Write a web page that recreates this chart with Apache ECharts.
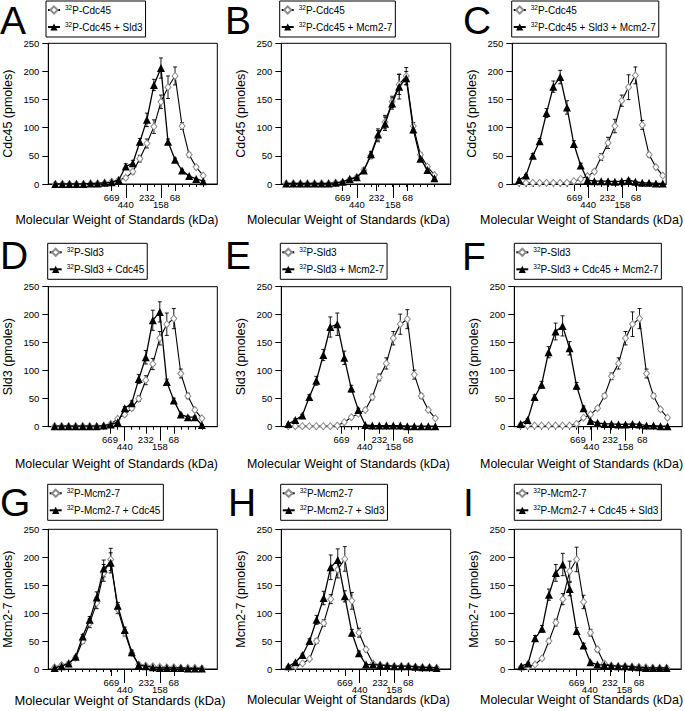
<!DOCTYPE html>
<html>
<head>
<meta charset="utf-8">
<script src="https://cdn.jsdelivr.net/npm/echarts@6/dist/echarts.min.js"></script>
<style>html,body{margin:0;padding:0;background:#fff}#c{width:685px;height:711px}</style>
</head>
<body>
<div id="c"></div>
<script>
// ---------------- DATA ----------------
const fractions = [1,2,3,4,5,6,7,8,9,10,11,12,13,14,15,16,17,18,19,20,21,22];
const standardLabels = ['669','440','232','158','68'];
const xTitle = 'Molecular Weight of Standards (kDa)';
const isotope = '32';

// legend labels (text following the superscript 32)
const legendA = ['P-Cdc45', 'P-Cdc45 + Sld3'];
const legendB = ['P-Cdc45', 'P-Cdc45 + Mcm2-7'];
const legendC = ['P-Cdc45', 'P-Cdc45 + Sld3 + Mcm2-7'];
const legendD = ['P-Sld3', 'P-Sld3 + Cdc45'];
const legendE = ['P-Sld3', 'P-Sld3 + Mcm2-7'];
const legendF = ['P-Sld3', 'P-Sld3 + Cdc45 + Mcm2-7'];
const legendG = ['P-Mcm2-7', 'P-Mcm2-7 + Cdc45'];
const legendH = ['P-Mcm2-7', 'P-Mcm2-7 + Sld3'];
const legendI = ['P-Mcm2-7', 'P-Mcm2-7 + Cdc45 + Sld3'];

// elution position (fraction) of each standard, per panel
const stdA = [9, 11, 14, 16, 18];
const stdB = [9, 11, 13.8, 16.1, 18.2];
const stdC = [9.1, 11.1, 13.9, 16.1, 18.1];
const stdD = [8.9, 11, 14, 16, 18];
const stdE = [8.6, 11.9, 14, 16, 18.1];
const stdF = [9.2, 11.1, 13.8, 16, 18.4];
const stdG = [9.1, 11, 14.1, 16, 18];
const stdH = [9, 11.1, 14, 16, 18];
const stdI = [9, 10.9, 13.8, 15.9, 18];

// Panel A
const aCdc45      = [0,0,0,0,0,1,1,2,4,7,11,22,45,72,102,146,172,192,103,52,30,15];
const aCdc45Err   = [0,0,0,0,0,0,0,0,1,2,3,4,6,8,12,12,20,16,6,4,3,2];
const aSld3       = [0,0,0,0,0,1,1,2,3,7,31,37,75,114,176,206,75,43,24,14,9,5];
const aSld3Err    = [0,0,0,0,0,0,0,0,1,2,5,5,6,12,10,18,5,3,2,1,1,1];
// Panel B
const bCdc45      = [1,1,1,1,1,1,1,2,3,8,12,25,50,85,110,146,177,192,103,52,31,16];
const bCdc45Err   = [0,0,0,0,0,0,0,0,1,1,2,3,5,10,12,10,18,15,6,4,3,2];
const bMcm        = [1,1,1,1,1,1,1,2,4,9,12,24,53,88,107,143,173,188,97,45,25,10];
const bMcmErr     = [0,0,0,0,0,0,0,0,1,2,2,3,5,10,12,10,22,12,6,4,3,2];
// Panel C
const cCdc45      = [2,2,2,2,2,2,2,2,5,9,14,22,48,73,103,148,172,193,105,52,30,15];
const cCdc45Err   = [0,0,0,0,0,0,0,0,1,2,2,3,6,10,12,10,22,15,8,4,3,2];
const cSld3Mcm    = [7,15,50,76,126,173,190,136,71,33,7,5,5,5,4,5,7,4,2,2,1,1];
const cSld3McmErr = [2,2,4,5,8,10,12,12,6,4,2,1,1,1,1,1,2,1,1,0,0,0];
// Panel D
const dSld3       = [1,1,1,1,1,1,1,1,5,14,22,33,50,83,112,158,183,193,95,55,30,15];
const dSld3Err    = [0,0,0,0,0,0,0,0,1,2,3,3,5,8,10,12,20,18,8,5,3,2];
const dCdc45      = [1,1,1,1,1,1,1,2,4,8,33,42,85,124,190,205,80,47,22,17,17,3];
const dCdc45Err   = [0,0,0,0,0,0,0,0,1,2,3,4,8,12,18,18,5,4,2,2,2,1];
// Panel E
const eSld3       = [1,1,1,1,1,1,1,2,8,17,23,30,53,88,113,158,183,192,93,55,30,15];
const eSld3Err    = [0,0,0,0,0,0,0,0,1,2,2,3,5,6,10,12,18,17,8,4,3,2];
const eMcm        = [5,12,20,53,82,128,178,183,123,68,30,3,2,2,2,2,2,1,1,1,1,1];
const eMcmErr     = [1,2,2,4,8,10,18,20,12,6,3,0,0,0,0,0,0,0,0,0,0,0];
// Panel F
const fSld3       = [2,2,2,2,2,2,2,2,5,16,22,33,55,90,113,158,183,193,95,55,31,16];
const fSld3Err    = [0,0,0,0,0,0,0,0,1,2,2,3,4,6,10,12,22,18,8,4,3,2];
const fCdcMcm     = [5,12,53,75,133,170,180,140,73,33,10,7,5,5,4,4,5,4,2,2,1,1];
const fCdcMcmErr  = [1,2,4,6,10,15,18,12,6,4,1,1,1,1,1,1,1,1,0,0,0,0];
// Panel G
const gMcm        = [3,7,10,20,50,82,118,172,196,107,65,28,8,6,5,4,3,3,2,2,2,1];
const gMcmErr     = [1,1,2,2,4,8,10,15,20,8,6,4,2,1,1,1,1,1,0,0,0,0];
const gCdc45      = [2,5,10,22,58,88,128,180,190,113,70,30,7,5,3,2,2,2,2,1,1,1];
const gCdc45Err   = [1,1,1,2,4,6,10,15,18,6,5,4,1,1,1,0,0,0,0,0,0,0];
// Panel H
const hMcm        = [3,5,10,18,50,82,125,178,197,122,65,35,10,7,6,5,5,5,4,3,3,2];
const hMcmErr     = [0,1,1,2,4,6,8,15,22,15,8,4,2,1,1,1,1,1,1,0,0,0];
const hSld3       = [5,12,25,50,88,127,182,195,130,65,28,8,8,7,6,5,5,5,4,3,3,2];
const hSld3Err    = [1,1,2,4,8,12,22,20,10,6,4,1,1,1,1,1,1,1,0,0,0,0];
// Panel I
const iMcm        = [3,4,8,19,50,83,125,175,196,120,65,35,10,6,5,5,4,4,3,2,2,2];
const iMcmErr     = [0,1,1,2,4,6,10,18,22,12,6,4,2,1,1,1,1,1,0,0,0,0];
const iCdcSld3    = [5,10,55,72,133,172,187,143,68,42,12,8,7,6,5,5,4,3,2,2,2,2];
const iCdcSld3Err = [1,2,5,6,10,15,20,12,6,4,2,1,1,1,1,1,1,1,0,0,0,0];

const panels = [
  {letter:'A', legend:legendA, yTitle:'Cdc45 (pmoles)',  std:stdA, w:aCdc45, we:aCdc45Err, b:aSld3,    be:aSld3Err},
  {letter:'B', legend:legendB, yTitle:'Cdc45 (pmoles)',  std:stdB, w:bCdc45, we:bCdc45Err, b:bMcm,     be:bMcmErr},
  {letter:'C', legend:legendC, yTitle:'Cdc45 (pmoles)',  std:stdC, w:cCdc45, we:cCdc45Err, b:cSld3Mcm, be:cSld3McmErr},
  {letter:'D', legend:legendD, yTitle:'Sld3 (pmoles)',   std:stdD, w:dSld3,  we:dSld3Err,  b:dCdc45,   be:dCdc45Err},
  {letter:'E', legend:legendE, yTitle:'Sld3 (pmoles)',   std:stdE, w:eSld3,  we:eSld3Err,  b:eMcm,     be:eMcmErr},
  {letter:'F', legend:legendF, yTitle:'Sld3 (pmoles)',   std:stdF, w:fSld3,  we:fSld3Err,  b:fCdcMcm,  be:fCdcMcmErr},
  {letter:'G', legend:legendG, yTitle:'Mcm2-7 (pmoles)', std:stdG, w:gMcm,   we:gMcmErr,   b:gCdc45,   be:gCdc45Err},
  {letter:'H', legend:legendH, yTitle:'Mcm2-7 (pmoles)', std:stdH, w:hMcm,   we:hMcmErr,   b:hSld3,    be:hSld3Err},
  {letter:'I', legend:legendI, yTitle:'Mcm2-7 (pmoles)', std:stdI, w:iMcm,   we:iMcmErr,   b:iCdcSld3, be:iCdcSld3Err}
];

// ---------------- LAYOUT ----------------
const FONT = "'Liberation Sans', Arial, Helvetica, sans-serif";
const layout = [
  {left:48.3,  width:169,   top:43.3,  height:140.7, xmin:0,   xmax:24,   lgX:46,    lgY:1,     ltX:0,   ltY:20.5,  shift:15.8, gap:30, tfs:12.4},
  {left:281.3, width:169.4, top:43.3,  height:140.7, xmin:0.3, xmax:24.3, lgX:279.7, lgY:1,     ltX:225, ltY:20.5,  shift:17.5, gap:30, tfs:12.4},
  {left:512.3, width:156.7, top:43.3,  height:140.7, xmin:0,   xmax:22.5, lgX:511.7, lgY:1,     ltX:463, ltY:20.5,  shift:7.7,  gap:30, tfs:12.4},
  {left:48.3,  width:169,   top:286.7, height:140,   xmin:0.1, xmax:24.2, lgX:47.7,  lgY:243.3, ltX:0,   ltY:255.5, shift:16.3, gap:31, tfs:12.4},
  {left:281.3, width:169.4, top:286.7, height:140,   xmin:0,   xmax:24.2, lgX:280.3, lgY:243.3, ltX:225, ltY:255.5, shift:17.5, gap:31, tfs:12.4},
  {left:514.3, width:169.7, top:286.7, height:140,   xmin:0.1, xmax:24.1, lgX:514.3, lgY:243.3, ltX:462, ltY:256.5, shift:16.7, gap:31, tfs:12.4},
  {left:48.3,  width:169,   top:529.3, height:139.7, xmin:0.1, xmax:24.2, lgX:47.7,  lgY:484.3, ltX:0,   ltY:502,   shift:12.8, gap:25, tfs:12.9},
  {left:281.3, width:169.4, top:529.3, height:139.7, xmin:0,   xmax:24,   lgX:280.7, lgY:484.3, ltX:228, ltY:502,   shift:17.5, gap:25, tfs:12.4},
  {left:514.3, width:169.7, top:529.3, height:139.7, xmin:0,   xmax:24.1, lgX:514.3, lgY:484.3, ltX:463, ltY:502,   shift:16.2, gap:25, tfs:12.4}
];

function errRender(params, api) {
  const x = api.value(0), y = api.value(1), e = api.value(2);
  if (!(e > 0)) return {type:'group', children:[]};
  const p1 = api.coord([x, y + e]);
  const p2 = api.coord([x, Math.max(0, y - e)]);
  const w = 2;
  const st = {stroke:'#000', lineWidth:0.9};
  return {type:'group', children:[
    {type:'line', shape:{x1:p1[0], y1:p1[1], x2:p2[0], y2:p2[1]}, style:st},
    {type:'line', shape:{x1:p1[0]-w, y1:p1[1], x2:p1[0]+w, y2:p1[1]}, style:st},
    {type:'line', shape:{x1:p2[0]-w, y1:p2[1], x2:p2[0]+w, y2:p2[1]}, style:st}
  ]};
}

function stdAxis(i, L, vals, labels, tickLen, margin) {
  return {
    type:'value', gridIndex:i, min:L.xmin, max:L.xmax, position:'bottom',
    axisLine:{show:false}, splitLine:{show:false},
    axisTick:{show:true, customValues:vals, length:tickLen, lineStyle:{color:'#000', width:1}},
    axisLabel:{show:true, customValues:vals, margin:margin, fontSize:9.5, color:'#000', fontFamily:FONT,
      formatter:function (v) {
        const k = vals.findIndex(s => Math.abs(s - v) < 1e-6);
        return k >= 0 ? labels[k] : '';
      }}
  };
}

const grid = [], xAxis = [], yAxis = [], series = [], legend = [], graphic = [];
panels.forEach((p, i) => {
  const L = layout[i];
  grid.push({left:L.left, top:L.top, width:L.width, height:L.height, show:true,
    borderColor:'#000', borderWidth:1, backgroundColor:'rgba(0,0,0,0)'});
  xAxis.push({
    type:'value', gridIndex:i, min:L.xmin, max:L.xmax, position:'bottom',
    axisLine:{show:true, onZero:false, lineStyle:{color:'#000', width:1}},
    axisTick:{show:true, customValues:fractions, length:3, lineStyle:{color:'#000', width:1}},
    axisLabel:{show:false}, splitLine:{show:false},
    name:xTitle, nameLocation:'middle', nameGap:L.gap,
    nameTextStyle:{fontSize:L.tfs, color:'#000', fontFamily:FONT, padding:[0, 2 * L.shift, 0, 0]}
  });
  xAxis.push(stdAxis(i, L, [p.std[0], p.std[2], p.std[4]],
    [standardLabels[0], standardLabels[2], standardLabels[4]], 7, 8));
  xAxis.push(stdAxis(i, L, [p.std[1], p.std[3]],
    [standardLabels[1], standardLabels[3]], 14, 15));
  yAxis.push({
    type:'value', gridIndex:i, min:0, max:250, interval:50,
    axisLine:{show:true, lineStyle:{color:'#000', width:1}},
    axisTick:{show:true, length:6, lineStyle:{color:'#000', width:1}},
    axisLabel:{show:true, margin:9, fontSize:9.5, color:'#000', fontFamily:FONT},
    splitLine:{show:false},
    name:p.yTitle, nameLocation:'middle', nameGap:34,
    nameTextStyle:{fontSize:12.5, color:'#000', fontFamily:FONT}
  });
  const nW = p.letter + '|' + p.legend[0];
  const nB = p.letter + '|' + p.legend[1];
  series.push({type:'custom', xAxisIndex:3*i, yAxisIndex:i, renderItem:errRender, silent:true, z:2,
    encode:{x:0, y:1}, data:fractions.map((f, k) => [f, p.w[k], p.we[k]])});
  series.push({type:'custom', xAxisIndex:3*i, yAxisIndex:i, renderItem:errRender, silent:true, z:2,
    encode:{x:0, y:1}, data:fractions.map((f, k) => [f, p.b[k], p.be[k]])});
  series.push({type:'line', name:nW, xAxisIndex:3*i, yAxisIndex:i, z:3,
    data:fractions.map((f, k) => [f, p.w[k]]),
    symbol:'diamond', symbolSize:[6, 7], showSymbol:true,
    itemStyle:{color:'#fff', borderColor:'#8c8c8c', borderWidth:1},
    lineStyle:{color:'#000', width:1.1}, emphasis:{disabled:true}});
  series.push({type:'line', name:nB, xAxisIndex:3*i, yAxisIndex:i, z:4,
    data:fractions.map((f, k) => [f, p.b[k]]),
    symbol:'triangle', symbolSize:8, showSymbol:true,
    itemStyle:{color:'#000'},
    lineStyle:{color:'#000', width:1.3}, emphasis:{disabled:true}});
  legend.push({
    left:L.lgX, top:L.lgY, orient:'vertical', data:[nW, nB], selectedMode:false,
    itemWidth:12, itemHeight:9, itemGap:5, padding:[3, 3, 4, 1],
    borderColor:'#000', borderWidth:1,
    formatter:function (n) { return '{s|' + isotope + '}{t|' + n.split('|')[1] + '}'; },
    textStyle:{color:'#000', fontFamily:FONT, fontSize:10, lineHeight:12,
      rich:{
        s:{fontSize:6.5, lineHeight:7, verticalAlign:'top', color:'#000', fontFamily:FONT},
        t:{fontSize:10, lineHeight:12, color:'#000', fontFamily:FONT}
      }}
  });
  graphic.push({type:'text', x:L.ltX, y:L.ltY, silent:true,
    style:{text:p.letter, fontSize:39, fontFamily:FONT, fill:'#000',
      verticalAlign:'middle', textVerticalAlign:'middle', align:'left', textAlign:'left'}});
});

const chart = echarts.init(document.getElementById('c'), null, {renderer:'svg', width:685, height:711});
chart.setOption({
  animation:false,
  backgroundColor:'#fff',
  textStyle:{fontFamily:FONT},
  grid, xAxis, yAxis, series, legend, graphic
});
</script>
</body>
</html>
